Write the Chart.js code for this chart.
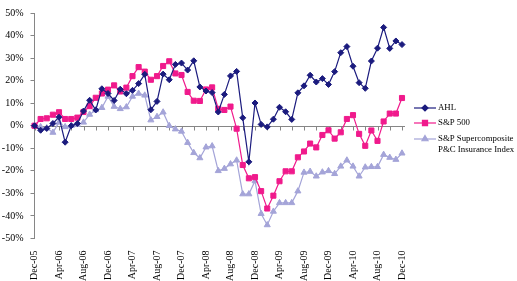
<!DOCTYPE html>
<html>
<head>
<meta charset="utf-8">
<script src="https://cdn.jsdelivr.net/npm/chart.js@4.4.1/dist/chart.umd.min.js"></script>
<style>
  html, body { margin: 0; padding: 0; background: #fff; }
  #wrap { width: 517px; height: 281px; }
</style>
</head>
<body>
<div id="wrap"><canvas id="chart" width="517" height="281"></canvas></div>
<script>
const months = [
  'Dec-05',
  'Jan-06', 'Feb-06', 'Mar-06', 'Apr-06', 'May-06', 'Jun-06', 'Jul-06', 'Aug-06', 'Sep-06', 'Oct-06', 'Nov-06', 'Dec-06',
  'Jan-07', 'Feb-07', 'Mar-07', 'Apr-07', 'May-07', 'Jun-07', 'Jul-07', 'Aug-07', 'Sep-07', 'Oct-07', 'Nov-07', 'Dec-07',
  'Jan-08', 'Feb-08', 'Mar-08', 'Apr-08', 'May-08', 'Jun-08', 'Jul-08', 'Aug-08', 'Sep-08', 'Oct-08', 'Nov-08', 'Dec-08',
  'Jan-09', 'Feb-09', 'Mar-09', 'Apr-09', 'May-09', 'Jun-09', 'Jul-09', 'Aug-09', 'Sep-09', 'Oct-09', 'Nov-09', 'Dec-09',
  'Jan-10', 'Feb-10', 'Mar-10', 'Apr-10', 'May-10', 'Jun-10', 'Jul-10', 'Aug-10', 'Sep-10', 'Oct-10', 'Nov-10', 'Dec-10'
];

// cumulative returns, %
const ahl = [0, -2, -1.2, 1, 3.8, -7.3, 0, 1, 6.5, 11.3,
  7, 16.4, 14.3, 11.2, 16.2, 14.2, 15.7, 18.7, 22.8, 7.1,
  10.8, 22.9, 20.4, 27.2, 27.8, 24.7, 28.8, 17.2, 15.4, 14.7,
  6.1, 13.9, 22.1, 24.1, 3.5, -16, 10.1, 0.6, -0.5, 2.9,
  8.2, 6.2, 2.8, 14.6, 17.7, 22.4, 19.4, 20.9, 18.3, 24,
  32.4, 35.1, 26.4, 19.1, 16.6, 28.7, 34.4, 43.6, 34.3, 37.6,
  36];

const sp500 = [0, 3, 3.3, 4.9, 6, 3, 3, 3.6, 6.1, 8.7,
  12.4, 14.3, 16, 17.9, 15.2, 16.9, 22, 26, 24, 20.4,
  22, 26.5, 28.6, 23.2, 22.5, 15, 11.1, 11, 16.1, 17,
  7.5, 7, 8.5, -1.3, -17.4, -23.3, -22.8, -29, -36.7, -31,
  -24.6, -20.2, -20.2, -14, -11.4, -7.9, -9.6, -4.1, -2, -5.7,
  -2.9, 3, 4.7, -3.6, -8.9, -2.1, -6.7, 1.9, 5.4, 5.4,
  12.3];

const pcIndex = [0, -0.5, -1, -3, 1.5, -0.5, 0, 0.5, 1.5, 5,
  7, 8, 13, 8.5, 7.5, 8.3, 13, 14.3, 13.5, 2.5,
  4, 6, 0, -1.5, -2.5, -7.5, -12, -14.3, -9.5, -9,
  -20, -19, -17, -15.3, -30.3, -30.3, -24.5, -39, -44, -38,
  -34.2, -34.2, -34.2, -29, -20.7, -20.3, -22.4, -20.6, -20, -21.3,
  -18, -15.3, -18, -22.4, -18.4, -18.2, -18.2, -12.8, -14.1, -15,
  -12.2];

const seriesNames = ['AHL', 'S&P 500', ['S&P Supercomposite', 'P&C Insurance Index']];
const colors = { ahl: '#1b1b7e', sp: '#f01a8c', pc: '#a4a4d8', axis: '#868686', text: '#000' };
const fontFamily = '"Liberation Serif", "Times New Roman", serif';

// horizontal axis crosses at 0%, tick marks every 2 months
const zeroAxis = {
  id: 'zeroAxis',
  beforeDatasetsDraw(chart) {
    const { ctx, chartArea, scales: { x, y } } = chart;
    const y0 = Math.round(y.getPixelForValue(0)) + 0.5;
    ctx.save();
    ctx.strokeStyle = colors.axis;
    ctx.lineWidth = 1;
    ctx.beginPath();
    ctx.moveTo(chartArea.left, y0);
    ctx.lineTo(chartArea.right + 3, y0);
    months.forEach((m, i) => {
      if (i % 2 === 0) {
        const px = Math.round(x.getPixelForValue(i)) + 0.5;
        ctx.moveTo(px, y0);
        ctx.lineTo(px, y0 + 4);
      }
    });
    ctx.stroke();
    ctx.restore();
  }
};

const sideLegend = {
  id: 'sideLegend',
  afterDraw(chart) {
    const { ctx } = chart;
    const rows = [108, 123, 139];
    ctx.save();
    chart.data.datasets.forEach((ds, i) => {
      const yy = rows[i];
      ctx.strokeStyle = ds.borderColor;
      ctx.lineWidth = ds.borderWidth;
      ctx.beginPath();
      ctx.moveTo(414, yy);
      ctx.lineTo(436, yy);
      ctx.stroke();
      ctx.fillStyle = ds.pointBackgroundColor;
      ctx.strokeStyle = ds.pointBorderColor;
      Chart.helpers.drawPoint(ctx, { pointStyle: ds.pointStyle, radius: ds.pointRadius, borderWidth: 1, rotation: 0 }, 425, yy);
      ctx.fillStyle = colors.text;
      ctx.font = '8.8px ' + fontFamily;
      ctx.textBaseline = 'middle';
      const lines = [].concat(seriesNames[i]);
      lines.forEach((t, j) => ctx.fillText(t, 438, yy + j * 11));
    });
    ctx.restore();
  }
};

function makeSeries(label, data, color, style, radius) {
  return {
    label, data,
    borderColor: color, borderWidth: 1.2,
    pointStyle: style, pointRadius: radius,
    pointBackgroundColor: color, pointBorderColor: color, pointBorderWidth: 1,
    tension: 0, fill: false
  };
}

new Chart(document.getElementById('chart'), {
  type: 'line',
  data: {
    labels: months,
    datasets: [
      makeSeries('AHL', ahl, colors.ahl, 'rectRot', 3),
      makeSeries('S&P 500', sp500, colors.sp, 'rect', 3.6),
      makeSeries('S&P Supercomposite P&C Insurance Index', pcIndex, colors.pc, 'triangle', 3.5)
    ]
  },
  options: {
    responsive: false,
    animation: false,
    layout: { padding: { top: 7, right: 115, left: 0, bottom: 0 } },
    plugins: { legend: { display: false }, tooltip: { enabled: false } },
    scales: {
      x: {
        offset: false,
        grid: { display: false },
        border: { display: false },
        ticks: {
          autoSkip: false, minRotation: 90, maxRotation: 90, padding: 4,
          color: colors.text, font: { family: fontFamily, size: 10 },
          callback: (v, i) => (i % 4 === 0 ? months[i] : '')
        },
        afterFit: s => { s.height = 42.5; }
      },
      y: {
        min: -50, max: 50,
        ticks: {
          stepSize: 10, padding: 7, color: colors.text,
          font: { family: fontFamily, size: 10 },
          callback: v => v + '%'
        },
        grid: { drawOnChartArea: false, tickLength: 4, color: colors.axis },
        border: { display: true, color: colors.axis },
        afterFit: s => { s.width = 34.5; }
      }
    }
  },
  plugins: [zeroAxis, sideLegend]
});
</script>
</body>
</html>
